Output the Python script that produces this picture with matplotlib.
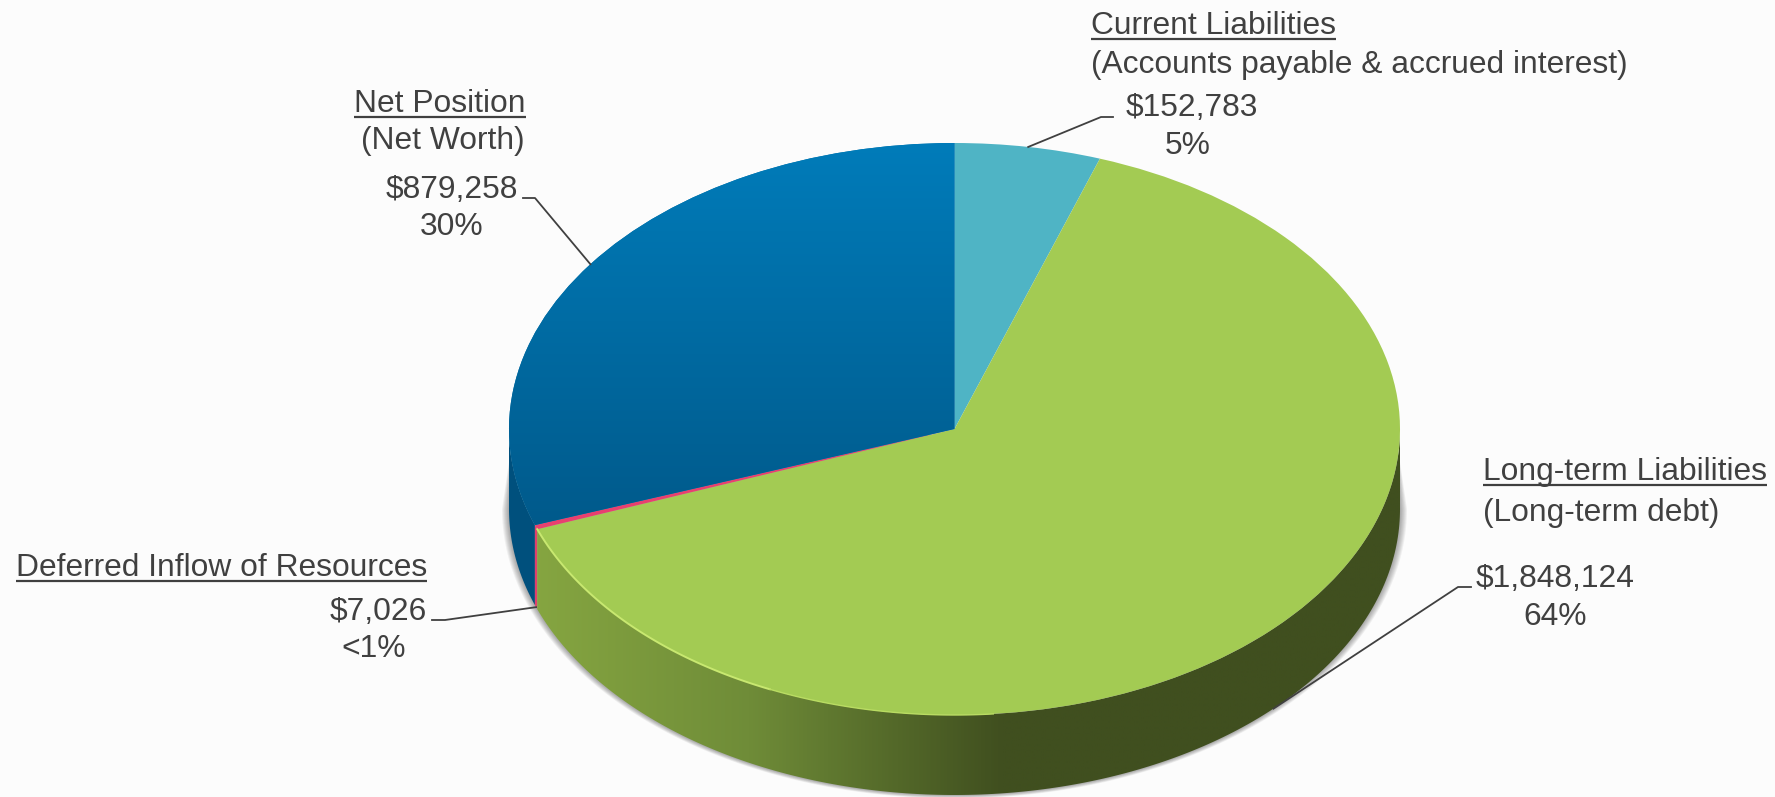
import numpy as np
import matplotlib
matplotlib.use("Agg")
import matplotlib.pyplot as plt
from matplotlib.colors import LinearSegmentedColormap
from matplotlib.patches import Polygon
from matplotlib.transforms import Affine2D

# data
categorias = ["Current Liabilities", "Long-term Liabilities", "Deferred Inflow of Resources", "Net Position"]
valores = [152783, 1848124, 7026, 879258]
percentuais = ["5%", "64%", "<1%", "30%"]
subtitulos = ["(Accounts payable & accrued interest)", "(Long-term debt)", "", "(Net Worth)"]
cores = ["#4FB4C5", "#A3CB53", "#E8406F", "#0070A8"]

plt.rcParams["font.family"] = ["Liberation Sans", "DejaVu Sans"]
FUNDO = "#FCFCFC"
TEXTO = "#404040"
FS = 22.9

# geometry of the tilted pie, in pixels
cx, cy, rx, ry, prof = 954.5, 429, 445.5, 286, 80

fig = plt.figure(figsize=(17.75, 7.97), dpi=100, facecolor=FUNDO)
ax = fig.add_axes([0, 0, 1, 1])
ax.set_facecolor(FUNDO)

def borda(a1, a2, dy=0, n=200, gx=0, gy=0):
    t = np.radians(np.linspace(a1, a2, n))
    return np.column_stack([cx + (rx + gx) * np.cos(t), cy + dy - (ry + gy) * np.sin(t)])

tr = Affine2D().scale(rx, -ry).translate(cx, cy) + ax.transData
wedges, _ = ax.pie(valores, colors=cores, startangle=90, counterclock=False,
                   wedgeprops={"transform": tr, "linewidth": 0}, radius=1)
ax.set_aspect("auto")
for w in wedges:
    w.set_zorder(5)

a_verde_fim = wedges[1].theta1        # left end of green
a_rosa_fim = wedges[2].theta1         # left end of pink

# soft shadow around the wall, tapers away behind the top face
for g in range(7, 0, -1):
    pts = np.vstack([borda(-180, 0, prof, gx=g, gy=g * 0.5),
                     [[cx + rx - 4, cy + 6]], [[cx - rx + 4, cy + 6]]])
    ax.add_patch(Polygon(pts, closed=True, fc="#000000", ec="none", alpha=0.05, zorder=1))

# side wall, only the front half shows
def parede(a1, a2, **kw):
    pts = np.vstack([borda(a1, a2), borda(a2, a1, prof)])
    p = Polygon(pts, closed=True, ec="none", **kw)
    ax.add_patch(p)
    return p

azul_ini = a_rosa_fim - 360 if a_rosa_fim > 0 else a_rosa_fim
verde_ini = a_verde_fim - 360 if a_verde_fim > 0 else a_verde_fim
parede(-180, azul_ini, fc="#00507D", zorder=3)
parede(azul_ini, verde_ini, fc="#E0406C", zorder=3)

# green wall with horizontal gradient, flat dark on the right part
p_verde = parede(verde_ini, 0, fc="none", zorder=2)
cm_parede = LinearSegmentedColormap.from_list(
    "parede", [(0, "#86A641"), (0.25, "#6F8C38"), (0.42, "#536829"), (0.54, "#404F1F"), (1, "#404F1F")])
im = ax.imshow(np.linspace(0, 1, 512).reshape(1, -1), cmap=cm_parede, aspect="auto", zorder=3,
               extent=[530, 1405, cy + prof + ry, cy], interpolation="bilinear")
im.set_clip_path(p_verde)

# blue face has a vertical gradient
cm_azul = LinearSegmentedColormap.from_list("azul", ["#007CBA", "#00598A"])
im2 = ax.imshow(np.linspace(0, 1, 256).reshape(-1, 1), cmap=cm_azul, aspect="auto", zorder=6,
                extent=[cx - rx - 2, cx + 2, cy + 105, cy - ry - 2], interpolation="bilinear")
im2.set_clip_path(wedges[3])

# thin highlight on the front rim
r1 = borda(verde_ini, verde_ini + 45, n=120)
r2 = borda(verde_ini + 45, -85, n=120)
ax.plot(r1[:, 0], r1[:, 1], color="#C8E870", lw=1.4, zorder=7)
ax.plot(r2[:, 0], r2[:, 1], color="#B9DC62", lw=1.0, zorder=7)

ax.set_xlim(0, 1775)
ax.set_ylim(797, 0)
ax.axis("off")
ax.patch.set_visible(False)

def texto(x, y, s, ha="left", sublinhar=False, fs=FS):
    t = ax.text(x, y, s, ha=ha, va="baseline", color=TEXTO, fontsize=fs, zorder=10)
    if sublinhar:
        bb = t.get_window_extent(fig.canvas.get_renderer())
        ax.plot([bb.x0, bb.x1], [y + 5, y + 5], color=TEXTO, lw=1.6, zorder=10, solid_capstyle="butt")
    return t

def valor(v):
    return "${:,}".format(v)

texto(1091, 34, categorias[0], sublinhar=True)
texto(1091, 73, subtitulos[0])
texto(1192, 116, valor(valores[0]), ha="center")
texto(1188, 154, percentuais[0], ha="center")

texto(1483, 480, categorias[1], sublinhar=True)
texto(1483, 521, subtitulos[1])
texto(1555, 587, valor(valores[1]), ha="center")
texto(1555, 625, percentuais[1], ha="center")

texto(16, 576, categorias[2], sublinhar=True)
texto(378, 620, valor(valores[2]), ha="center")
texto(374, 657, percentuais[2], ha="center")

texto(354, 112, categorias[3], sublinhar=True)
texto(525, 149, subtitulos[3], ha="right")
texto(452, 198, valor(valores[3]), ha="center")
texto(452, 235, percentuais[3], ha="center")

# leader lines end on the rim at the middle of each slice
def ponto_meio(w, dy=0):
    a = np.radians((w.theta1 + w.theta2) / 2)
    return cx + rx * np.cos(a), cy + dy - ry * np.sin(a)

lideres = [
    (ponto_meio(wedges[0]), (1101, 117), (1113, 117)),
    (ponto_meio(wedges[1], prof), (1458, 587), (1471, 587)),
    (ponto_meio(wedges[2], prof), (445, 620), (432, 620)),
    (ponto_meio(wedges[3]), (535, 198), (523, 198)),
]
for a, b, c in lideres:
    ax.plot([a[0], b[0], c[0]], [a[1], b[1], c[1]], color=TEXTO, lw=1.3, zorder=9,
            solid_joinstyle="round")

fig.savefig("out.png", dpi=100, facecolor=FUNDO)
